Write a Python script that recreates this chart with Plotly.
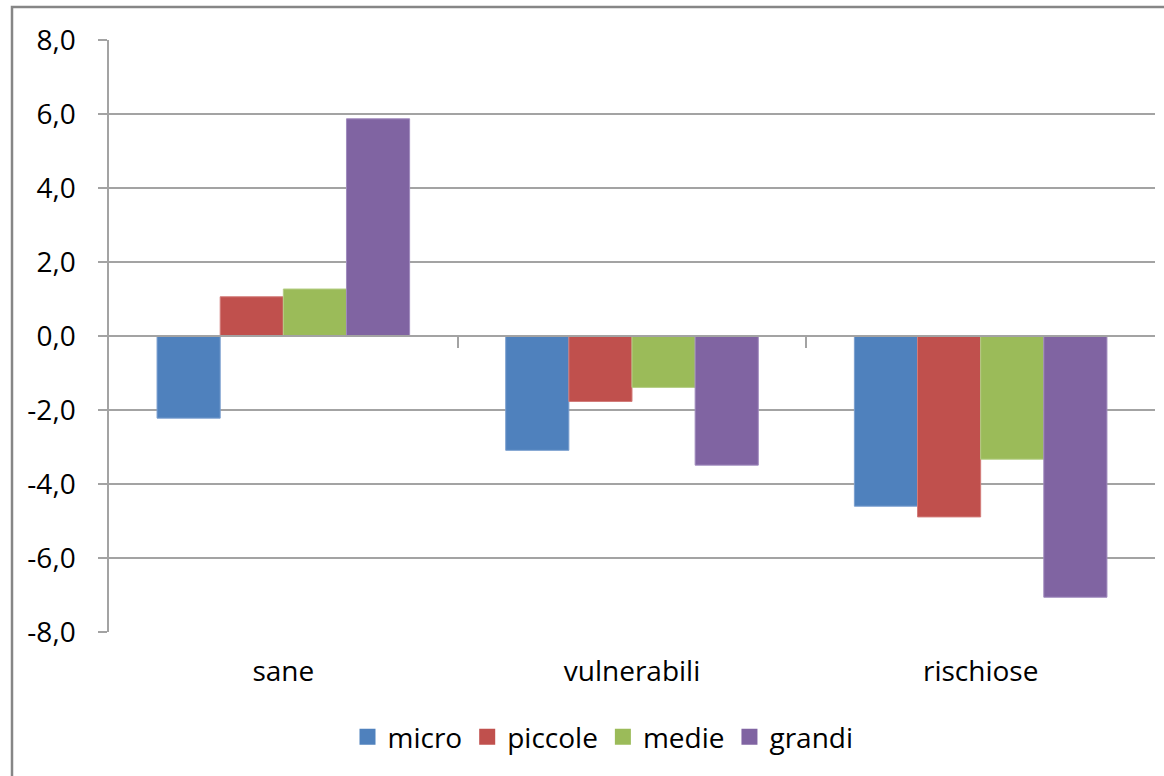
import plotly.graph_objects as go

# Categories and series values (variation, percentage points)
categories = ["sane", "vulnerabili", "rischiose"]
series_names = ["micro", "piccole", "medie", "grandi"]
micro = [-2.22, -3.09, -4.60]
piccole = [1.06, -1.77, -4.89]
medie = [1.27, -1.39, -3.33]
grandi = [5.87, -3.49, -7.06]
y_ticks = [-8, -6, -4, -2, 0, 2, 4, 6, 8]
y_tick_labels = ["-8,0", "-6,0", "-4,0", "-2,0", "0,0", "2,0", "4,0", "6,0", "8,0"]

fill_colors = ["#4F81BD", "#C0504D", "#9BBB59", "#8064A2"]
edge_colors = ["#7A9FCF", "#D27C7A", "#B5CE86", "#A08BBE"]

W, H = 1164, 776
M_L, M_R, M_T, M_B = 109, 9, 40, 144
PW, PH = W - M_L - M_R, H - M_T - M_B

FONT = "Open Sans"
TXT = "#000000"
GRID = "#A3A3A3"

fig = go.Figure()
x_pos = list(range(len(categories)))
for name, vals, fc, ec in zip(series_names, [micro, piccole, medie, grandi], fill_colors, edge_colors):
    fig.add_trace(go.Bar(
        x=x_pos, y=vals, name=name, showlegend=False,
        marker=dict(color=fc, line=dict(color=ec, width=1)),
    ))

# Legend entries drawn as square swatches
for name, fc in zip(series_names, fill_colors):
    fig.add_trace(go.Scatter(
        x=[None], y=[None], name=name, mode="markers",
        marker=dict(symbol="square", size=16, color=fc),
    ))

# Horizontal category axis crossing at zero, with tick marks between categories
fig.add_trace(go.Scatter(x=[0], y=[0], xaxis="x2", mode="markers",
                         marker=dict(opacity=0), showlegend=False, hoverinfo="skip"))


def px_to_paper_x(px):
    return (px - M_L) / PW


def px_to_paper_y(py):
    return (H - M_B - py) / PH


fig.update_layout(
    width=W, height=H,
    margin=dict(l=M_L, r=M_R, t=M_T, b=M_B),
    paper_bgcolor="white", plot_bgcolor="white",
    font=dict(family=FONT, size=28, color=TXT),
    barmode="group", bargap=0.2756, bargroupgap=0,
    showlegend=True,
    legend=dict(orientation="h", x=px_to_paper_x(603), xanchor="center",
                y=px_to_paper_y(737), yanchor="middle",
                font=dict(family=FONT, size=28, color=TXT), bgcolor="rgba(0,0,0,0)",
                traceorder="normal", itemsizing="trace"),
    xaxis=dict(range=[-0.5, 2.5], tickvals=x_pos, ticktext=categories,
               showgrid=False, zeroline=False, showline=False, ticks="",
               ticklabelstandoff=20,
               tickfont=dict(family=FONT, size=28, color=TXT)),
    xaxis2=dict(range=[-0.5, 2.5], overlaying="x", anchor="free", position=0.5,
                side="bottom", tickvals=[0.5, 1.5], ticks="outside", ticklen=11,
                tickcolor=GRID, tickwidth=1.5, showticklabels=False,
                showline=True, linecolor=GRID, linewidth=1.5, showgrid=False, zeroline=False),
    yaxis=dict(range=[-8, 8], tickvals=y_ticks, ticktext=y_tick_labels,
               showgrid=True, gridcolor=GRID, gridwidth=1.5,
               zeroline=False, showline=True, linecolor=GRID, linewidth=1.5,
               ticks="outside", ticklen=9, tickcolor=GRID, tickwidth=1.5,
               ticklabelstandoff=17,
               tickfont=dict(family=FONT, size=28, color=TXT)),
    shapes=[dict(type="rect", xref="paper", yref="paper", layer="above",
                 x0=px_to_paper_x(12), x1=px_to_paper_x(W + 20),
                 y0=px_to_paper_y(H + 20), y1=px_to_paper_y(7),
                 line=dict(color="#868686", width=2.5), fillcolor="rgba(0,0,0,0)")],
)

fig.write_html("out.html")
